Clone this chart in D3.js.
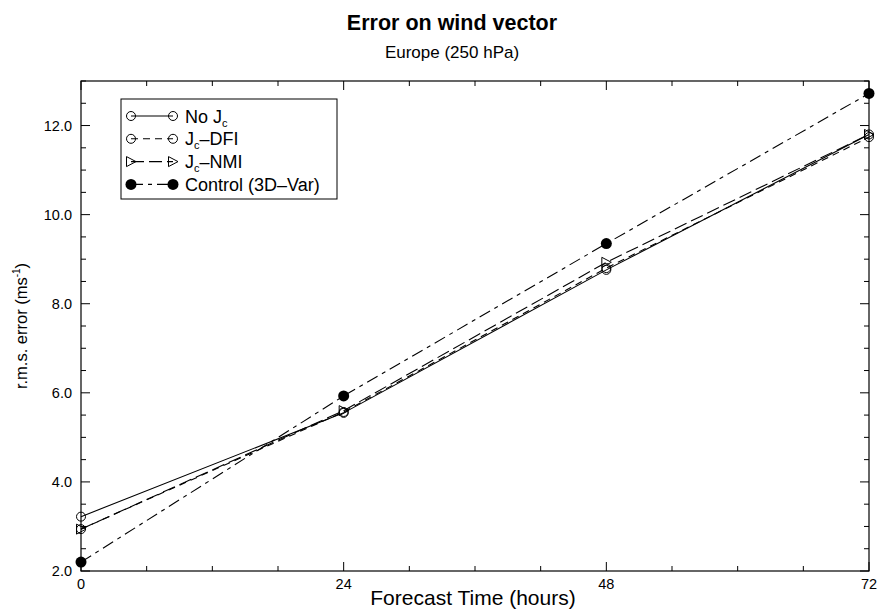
<!DOCTYPE html>
<html lang="en">
<head>
<meta charset="UTF-8">
<script src="https://d3js.org/d3.v7.min.js"></script>
<title>Error on wind vector</title>
<style>
  body { margin: 0; background: #fff; }
  text { font-family: "Liberation Sans", Arial, sans-serif; fill: #000; }
</style>
</head>
<body>
<div id="chart"></div>
<script>
  // data
  var hours = [0, 24, 48, 72];
  var noJc = [3.22, 5.55, 8.76, 11.80];
  var jcDfi = [2.94, 5.57, 8.80, 11.74];
  var jcNmi = [2.94, 5.60, 8.93, 11.80];
  var control = [2.20, 5.93, 9.35, 12.72];
  var yTicks = [2, 4, 6, 8, 10, 12];
  var xTicks = [0, 24, 48, 72];

  var W = 879, H = 610;
  var margin = { top: 81, right: 10, bottom: 39, left: 81 };
  var width = W - margin.left - margin.right,
      height = H - margin.top - margin.bottom;

  var svg = d3.select("#chart").append("svg")
      .attr("width", W).attr("height", H);

  var g = svg.append("g")
      .attr("transform", "translate(" + margin.left + "," + margin.top + ")");

  var x = d3.scaleLinear().domain([0, 72]).range([0, width]);
  var y = d3.scaleLinear().domain([2, 13]).range([height, 0]);

  // titles
  svg.append("text").attr("x", 452).attr("y", 30).attr("text-anchor", "middle")
      .style("font-size", "21.5px").style("font-weight", "bold").text("Error on wind vector");
  svg.append("text").attr("x", 452).attr("y", 58).attr("text-anchor", "middle")
      .style("font-size", "17px").text("Europe (250 hPa)");

  // frame
  g.append("rect").attr("width", width).attr("height", height)
      .attr("fill", "none").attr("stroke", "#000").attr("stroke-width", 1.2);

  // ticks (inward, on all four sides)
  var minorX = d3.range(0, 73, 6), minorY = d3.range(2, 13.01, 0.5);
  function tickLen(v, major) { return major.indexOf(v) >= 0 ? 9 : 5; }

  var ticks = g.append("g").attr("stroke", "#000").attr("stroke-width", 1);
  minorX.forEach(function (v) {
    var L = tickLen(v, xTicks);
    ticks.append("line").attr("x1", x(v)).attr("x2", x(v)).attr("y1", height).attr("y2", height - L);
    ticks.append("line").attr("x1", x(v)).attr("x2", x(v)).attr("y1", 0).attr("y2", L);
  });
  minorY.forEach(function (v) {
    var L = tickLen(v, yTicks);
    ticks.append("line").attr("x1", 0).attr("x2", L).attr("y1", y(v)).attr("y2", y(v));
    ticks.append("line").attr("x1", width).attr("x2", width - L).attr("y1", y(v)).attr("y2", y(v));
  });

  // tick labels
  g.selectAll(".xl").data(xTicks).enter().append("text")
      .attr("x", function (d) { return x(d); }).attr("y", height + 18)
      .attr("text-anchor", "middle").style("font-size", "14.5px")
      .text(function (d) { return d; });
  g.selectAll(".yl").data(yTicks).enter().append("text")
      .attr("x", -9).attr("y", function (d) { return y(d) + 5; })
      .attr("text-anchor", "end").style("font-size", "14.5px")
      .text(function (d) { return d3.format(".1f")(d); });

  // axis titles
  svg.append("text").attr("x", 473).attr("y", 605).attr("text-anchor", "middle")
      .style("font-size", "21px").text("Forecast Time (hours)");
  var yl = svg.append("text").attr("transform", "translate(27," + (margin.top + height / 2) + ") rotate(-90)")
      .attr("text-anchor", "middle").style("font-size", "16.5px");
  yl.append("tspan").text("r.m.s. error (ms");
  yl.append("tspan").attr("dy", -7).style("font-size", "10px").text("-1");
  yl.append("tspan").attr("dy", 7).text(")");

  var series = [
    { name: "No", vals: noJc, dash: null, marker: "circle" },
    { name: "DFI", vals: jcDfi, dash: "7,5", marker: "circle" },
    { name: "NMI", vals: jcNmi, dash: "13,5", marker: "triangle" },
    { name: "Control", vals: control, dash: "12,5,4,5", marker: "dot" }
  ];

  var line = d3.line()
      .x(function (d, i) { return x(hours[i]); })
      .y(function (d) { return y(d); });

  function drawMarker(sel, type, cx, cy) {
    if (type === "circle") {
      sel.append("circle").attr("cx", cx).attr("cy", cy).attr("r", 4.5)
          .attr("fill", "none").attr("stroke", "#000").attr("stroke-width", 1);
    } else if (type === "dot") {
      sel.append("circle").attr("cx", cx).attr("cy", cy).attr("r", 5.5).attr("fill", "#000");
    } else {
      sel.append("path")
          .attr("d", "M" + (cx - 4.5) + "," + (cy - 5) + "L" + (cx + 5) + "," + cy + "L" + (cx - 4.5) + "," + (cy + 5) + "Z")
          .attr("fill", "none").attr("stroke", "#000").attr("stroke-width", 1);
    }
  }

  series.forEach(function (s) {
    g.append("path").datum(s.vals).attr("d", line)
        .attr("fill", "none").attr("stroke", "#000").attr("stroke-width", 1.1)
        .attr("stroke-dasharray", s.dash);
  });
  series.forEach(function (s) {
    var mg = g.append("g");
    s.vals.forEach(function (v, i) { drawMarker(mg, s.marker, x(hours[i]), y(v)); });
  });

  // legend
  var lg = svg.append("g").attr("transform", "translate(121,99)");
  lg.append("rect").attr("width", 216).attr("height", 100)
      .attr("fill", "#fff").attr("stroke", "#000").attr("stroke-width", 1);
  series.forEach(function (s, i) {
    var ry = 17 + i * 22.8;
    lg.append("line").attr("x1", 10).attr("x2", 52).attr("y1", ry).attr("y2", ry)
        .attr("stroke", "#000").attr("stroke-width", 1.1).attr("stroke-dasharray", s.dash);
    drawMarker(lg, s.marker, 10, ry);
    drawMarker(lg, s.marker, 52, ry);
    var t = lg.append("text").attr("x", 64).attr("y", ry + 6.5).style("font-size", "18px");
    if (s.name === "No") {
      t.append("tspan").text("No J");
      t.append("tspan").attr("dy", 4).style("font-size", "11px").text("c");
    } else if (s.name === "Control") {
      t.text("Control (3D\u2013Var)");
    } else {
      t.append("tspan").text("J");
      t.append("tspan").attr("dy", 4).style("font-size", "11px").text("c");
      t.append("tspan").attr("dy", -4).text("\u2013" + s.name);
    }
  });
</script>
</body>
</html>
